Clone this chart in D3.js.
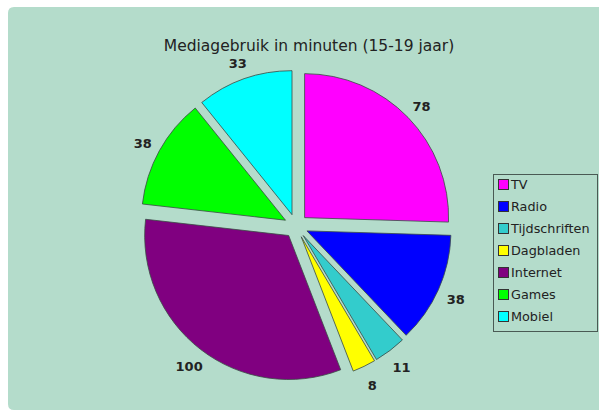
<!DOCTYPE html>
<html><head><meta charset="utf-8">
<script src="https://cdn.jsdelivr.net/npm/d3@7/dist/d3.min.js"></script>
<style>html,body{margin:0;padding:0;background:#fff;}svg{display:block;}</style>
</head><body>
<svg id="chart" width="599" height="414"></svg>
<script>
const categories = ["TV", "Radio", "Tijdschriften", "Dagbladen", "Internet", "Games", "Mobiel"];
const values = [78, 38, 11, 8, 100, 38, 33];
const colors = ["#ff00ff", "#0000ff", "#33cccc", "#ffff00", "#800080", "#00ff00", "#00ffff"];
const title = "Mediagebruik in minuten (15-19 jaar)";

const svg = d3.select("#chart");
// background panel
svg.append("path")
  .attr("d", "M8,13 Q8,7 14,7 L599,7 L599,410 L14,410 Q8,410 8,404 Z")
  .attr("fill", "#b4dccb");

svg.append("text")
  .attr("x", 309).attr("y", 51)
  .attr("text-anchor", "middle")
  .attr("font-family", "DejaVu Sans, Verdana, sans-serif")
  .attr("font-size", 15.5)
  .attr("fill", "#222")
  .text(title);

const cx = 296, cy = 226, R = 144, explode = 12, labelR = 175;
const data = categories.map((c, i) => ({ name: c, value: values[i], color: colors[i] }));
const pie = d3.pie().value(d => d.value).sort(null);
const arcs = pie(data);
const arc = d3.arc().innerRadius(0).outerRadius(R);
const color = d3.scaleOrdinal().domain(categories).range(colors);

const g = svg.append("g").attr("transform", `translate(${cx},${cy})`);
g.selectAll("path.slice").data(arcs).enter().append("path")
  .attr("class", "slice")
  .attr("d", arc)
  .attr("transform", d => {
    const m = (d.startAngle + d.endAngle) / 2;
    return `translate(${explode * Math.sin(m)},${-explode * Math.cos(m)})`;
  })
  .attr("fill", d => color(d.data.name))
  .attr("stroke", "#3a4a44")
  .attr("stroke-width", 0.8);

g.selectAll("text.lbl").data(arcs).enter().append("text")
  .attr("class", "lbl")
  .attr("x", d => labelR * Math.sin((d.startAngle + d.endAngle) / 2))
  .attr("y", d => -labelR * Math.cos((d.startAngle + d.endAngle) / 2) + 2)
  .attr("dy", "0.35em")
  .attr("text-anchor", "middle")
  .attr("font-family", "DejaVu Sans, Verdana, sans-serif")
  .attr("font-weight", "bold")
  .attr("font-size", 13)
  .attr("fill", "#222")
  .text(d => d.data.value);

// legend
const lg = svg.append("g").attr("transform", "translate(493,174)");
lg.append("rect").attr("x", 0.5).attr("y", 0.5).attr("width", 104).attr("height", 157)
  .attr("fill", "none").attr("stroke", "#4a5a54").attr("stroke-width", 1);
const items = lg.selectAll("g.item").data(data).enter().append("g")
  .attr("transform", (d, i) => `translate(5,${11 + i * 22})`);
items.append("rect").attr("x", 0.5).attr("y", -5.5).attr("width", 10).attr("height", 10)
  .attr("fill", d => color(d.name)).attr("stroke", "#333").attr("stroke-width", 1);
items.append("text").attr("x", 13).attr("y", 0).attr("dy", "0.35em")
  .attr("font-family", "DejaVu Sans, Verdana, sans-serif")
  .attr("font-size", 12.8).attr("fill", "#222")
  .text(d => d.name);
</script>
</body></html>
